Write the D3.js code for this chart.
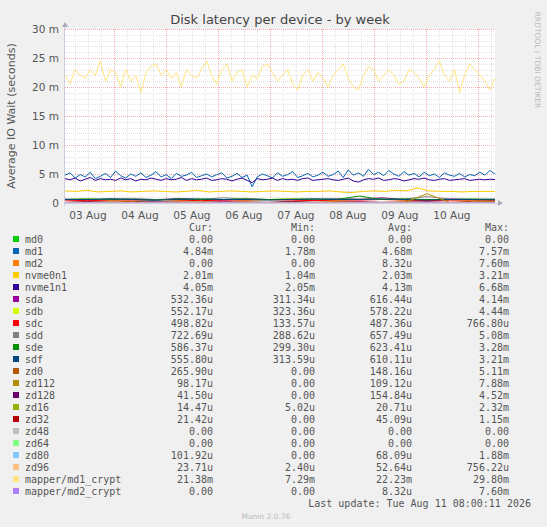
<!DOCTYPE html><html><head><meta charset="utf-8">
<script src="https://cdn.jsdelivr.net/npm/d3@7"></script>
<style>body{margin:0;background:#F0F0F0}</style></head><body>
<script>
const names=["md0","md1","md2","nvme0n1","nvme1n1","sda","sdb","sdc","sdd","sde","sdf","zd0","zd112","zd128","zd16","zd32","zd48","zd64","zd80","zd96","mapper/md1_crypt","mapper/md2_crypt"];
const colors=["#00CC00","#0066B3","#FF8000","#FFCC00","#330099","#990099","#CCFF00","#FF0000","#808080","#008F00","#00487D","#B35A00","#B38F00","#6B006B","#8FB300","#B30000","#BEBEBE","#80FF80","#80C9FF","#FFC080","#FFE680","#AA80FF"];
const cur=["0.00","4.84m","0.00","2.01m","4.05m","532.36u","552.17u","498.82u","722.69u","586.37u","555.80u","265.90u","98.17u","41.50u","14.47u","21.42u","0.00","0.00","101.92u","23.71u","21.38m","0.00"];
const mins=["0.00","1.78m","0.00","1.04m","2.05m","311.34u","323.36u","133.57u","288.62u","299.30u","313.59u","0.00","0.00","0.00","5.02u","0.00","0.00","0.00","0.00","2.40u","7.29m","0.00"];
const avgs=["0.00","4.68m","8.32u","2.03m","4.13m","616.44u","578.22u","487.36u","657.49u","623.41u","610.11u","148.16u","109.12u","154.84u","20.71u","45.09u","0.00","0.00","68.09u","52.64u","22.23m","8.32u"];
const maxs=["0.00","7.57m","7.60m","3.21m","6.68m","4.14m","4.44m","766.80u","5.08m","3.28m","3.21m","5.11m","7.88m","4.52m","2.32m","1.15m","0.00","0.00","1.88m","756.22u","29.80m","7.60m"];
// values in ms
const md0=[0,0];
const md1=[4.8,5.2,4.3,4.9,4.5,5.3,4.2,4.6,5.1,4.4,5.5,4.7,4.3,5.0,4.6,5.2,4.4,4.8,5.4,4.5,4.9,4.2,5.1,4.6,4.8,5.3,4.4,4.7,5.0,4.5,4.9,5.2,4.3,4.6,5.1,4.4,4.8,2.8,4.5,5.0,4.7,4.3,5.2,4.6,4.9,5.4,4.4,4.7,5.1,4.5,4.8,5.3,4.6,4.9,5.5,4.4,5.7,4.8,5.2,4.6,5.8,4.9,5.3,4.7,5.6,5.0,4.6,5.4,4.8,5.1,4.5,5.3,4.7,5.0,4.4,5.2,4.8,4.6,5.1,4.5,4.9,4.7,5.3,4.8,5.6,5.0];
const md2=[0,0];
const nvme0n1=[2.1,2.0,2.2,1.9,2.0,2.1,1.9,2.0,2.1,2.0,1.9,2.0,2.2,1.9,2.0,2.1,2.0,1.9,2.0,2.1,2.0,1.9,2.0,2.0,2.1,1.9,1.8,2.0,2.1,2.0,2.2,2.1,2.6,2.1,2.0,2.0,1.9,2.0,2.0,2.0];
const nvme1n1=[4.2,4.0,4.3,3.8,4.1,4.4,3.9,4.2,4.0,4.1,3.9,4.3,4.0,4.2,3.8,4.1,4.0,4.3,4.1,3.9,4.2,4.0,4.1,4.4,3.9,4.2,4.0,4.1,4.3,3.9,4.0,4.2,4.1,3.8,4.1,4.3,3.9,3.5,4.2,4.0,4.1,4.3,3.9,4.2,4.0,4.1,3.9,4.2,4.3,3.9,4.0,4.1,4.2,4.0,3.9,4.1,4.3,3.8,3.6,4.0,4.2,4.1,4.3,3.9,4.0,4.2,4.1,3.8,4.0,4.2,4.1,4.3,4.0,3.9,4.1,4.2,3.9,4.0,4.1,4.2,3.9,4.0,4.1,4.0,4.1,4.05];
const sda=[0.6,0.5,0.7,0.6,0.5,0.8,0.6,0.5,0.7,0.6,0.6,0.5,0.7,0.6,0.9,0.6,0.5,0.7,0.6,0.5];
const sdb=[0.6,0.7,0.5,0.6,0.6,0.5,0.7,0.6,0.5,0.6,0.8,0.6,0.5,0.6,0.7,0.5,0.6,0.6,0.5,0.55];
const sdc=[0.5,0.4,0.5,0.5,0.6,0.5,0.4,0.5,0.5,0.6,0.5,0.4,0.5,0.5,0.6,0.5,0.4,0.5,0.5,0.5];
const sdd=[0.7,0.6,0.7,0.8,0.6,0.7,0.6,0.9,0.7,0.6,0.7,0.6,0.8,0.7,0.6,0.7,1.1,0.7,0.6,0.72];
const sde=[0.6,0.7,0.6,0.6,0.5,0.7,0.6,0.6,0.7,0.6,0.6,0.7,0.6,1.2,0.6,0.7,0.6,0.6,0.7,0.59];
const sdf=[0.6,0.6,0.7,0.6,0.5,0.6,0.7,0.6,0.6,0.5,0.6,0.7,0.6,0.6,0.7,0.6,0.5,0.6,0.6,0.56];
const zd0=[0.1,0.2,0.1,0.3,0.1,0.2,0.1,0.1,0.2,0.1,0.3,0.1,0.2,0.1,0.1,0.2,0.1,0.1,0.3,0.27];
const zd112=[0.1,0.1,0.2,0.1,0.1,0.1,0.2,0.1,0.1,0.1,0.1,0.1,0.2,0.1,0.1,0.1,1.6,0.1,0.1,0.1];
const zd128=[0.1,0.2,0.1,0.1,0.2,0.1,0.1,0.2,0.1,0.1,0.2,0.1,0.1,0.2,0.1,0.1,0.2,0.1,0.1,0.04];
const zd16=[0.02,0.02,0.03,0.02,0.02,0.02,0.03,0.02,0.02,0.02];
const zd32=[0.05,0.04,0.05,0.06,0.04,0.05,0.04,0.05,0.04,0.02];
const zd48=[0,0];
const zd64=[0,0];
const zd80=[0.05,0.1,0.05,0.08,0.05,0.06,0.05,0.1,0.05,0.1];
const zd96=[0.05,0.05,0.06,0.05,0.04,0.05,0.06,0.05,0.05,0.02];
const md1_crypt=[22,20.5,23,22,21.5,23,22,24.5,21,23,22.5,20,23,21,22,19,22.5,23.5,24,22,23,21.5,22.5,20,23,22,21.5,23,24.5,22,20.5,23,24,21,22.5,23,20,22,21.5,23.5,24,22.5,21,22,23,20.5,19.5,22,23,21,22.5,21.5,20,22,23,24,21.5,20,19.5,22,23.5,23,21,22,23,22,20.5,21,23,22.5,21.5,20,22,23,24.5,22,21,23,19,22,24,23,22,21,19.5,21.5];
const md2_crypt=[0,0];
const series=[md0,md1,md2,nvme0n1,nvme1n1,sda,sdb,sdc,sdd,sde,sdf,zd0,zd112,zd128,zd16,zd32,zd48,zd64,zd80,zd96,md1_crypt,md2_crypt];
const dayLabels=["03 Aug","04 Aug","05 Aug","06 Aug","07 Aug","08 Aug","09 Aug","10 Aug"];
const yTicks=[0,5,10,15,20,25,30];

const W=547,H=527,L=65,R=495,T=29,B=203;
const svg=d3.select("body").append("svg").attr("width",W).attr("height",H).style("font-family","DejaVu Sans");
const x=d3.scaleLinear().domain([0,198.5]).range([L,R]);
const y=d3.scaleLinear().domain([0,30]).range([B,T]);
const px=v=>Math.round(v)+0.5;
svg.append("rect").attr("x",L).attr("y",T).attr("width",R-L).attr("height",B-T).attr("fill","#fff");
const g=svg.append("g").attr("shape-rendering","crispEdges");
for(let v=1;v<30;v++) if(v%5) g.append("line").attr("x1",L).attr("x2",R).attr("y1",px(y(v))).attr("y2",px(y(v))).attr("stroke","#e2e2e2").attr("stroke-dasharray","1,1");
for(let h=22.6-18;h<198.5;h+=6){const k=(h-22.6)/24;const mid=Math.abs(k-Math.round(k))<0.01;
 if(!mid&&h>0) g.append("line").attr("x1",px(x(h))).attr("x2",px(x(h))).attr("y1",T).attr("y2",B).attr("stroke","#e2e2e2").attr("stroke-dasharray","1,1");}
yTicks.forEach(v=>{if(v>0)g.append("line").attr("x1",L).attr("x2",R).attr("y1",px(y(v))).attr("y2",px(y(v))).attr("stroke","#f2b0b0").attr("stroke-dasharray","1,1");});
for(let k=0;k<8;k++){const h=22.6+24*k;g.append("line").attr("x1",px(x(h))).attr("x2",px(x(h))).attr("y1",T).attr("y2",B).attr("stroke","#f2b0b0").attr("stroke-dasharray","1,1");}
svg.selectAll(".yt").data(yTicks).join("text").attr("x",L-6).attr("y",d=>y(d)+4).attr("text-anchor","end").attr("font-size",10.5).attr("fill","#555").text(d=>d===0?"0":d+" m");
svg.selectAll(".xt").data(dayLabels).join("text").attr("x",(d,i)=>x(22.6-12+24*i)).attr("y",B+16).attr("text-anchor","middle").attr("font-size",10.5).attr("fill","#555").text(d=>d);
const line=d3.line();
series.forEach((s,i)=>{
 const pts=s.map((v,j)=>[x(j*198.5/(s.length-1)),y(v)]);
 svg.append("path").attr("d",line(pts)).attr("fill","none").attr("stroke",colors[i]).attr("stroke-width",1);
});
svg.append("line").attr("x1",L).attr("x2",R+6).attr("y1",B+0.5).attr("y2",B+0.5).attr("stroke","#ccd");
svg.append("line").attr("x1",L-0.5).attr("x2",L-0.5).attr("y1",T-6).attr("y2",B+3).attr("stroke","#ccd");
svg.append("path").attr("d",`M${R+3},${B-3}L${R+8},${B}L${R+3},${B+3}Z`).attr("fill","#aab");
svg.append("path").attr("d",`M${L-3},${T-2}L${L},${T-7}L${L+3},${T-2}Z`).attr("fill","#aab");
svg.append("text").attr("x",280).attr("y",24).attr("text-anchor","middle").attr("font-size",13).attr("fill","#444").text("Disk latency per device - by week");
svg.append("text").attr("transform","translate(15,116) rotate(-90)").attr("text-anchor","middle").attr("font-size",11).attr("fill","#555").text("Average IO Wait (seconds)");
svg.append("text").attr("transform","translate(535,60) rotate(90)").attr("text-anchor","middle").attr("font-size",7.5).attr("fill","#bbb").text("RRDTOOL / TOBI OETIKER");
const mono="DejaVu Sans Mono";
[["Cur:",213],["Min:",315],["Avg:",412],["Max:",509]].forEach(([t,xx])=>svg.append("text").attr("x",xx).attr("y",231).attr("text-anchor","end").attr("font-family",mono).attr("font-size",10).attr("fill","#555").text(t));
names.forEach((n,i)=>{const yy=243+i*12;
 svg.append("rect").attr("x",13).attr("y",yy-7).attr("width",6).attr("height",6).attr("fill",colors[i]);
 svg.append("text").attr("x",25).attr("y",yy).attr("font-family",mono).attr("font-size",10).attr("fill","#555").text(n);
 [[cur,213],[mins,315],[avgs,412],[maxs,509]].forEach(([a,xx])=>svg.append("text").attr("x",xx).attr("y",yy).attr("text-anchor","end").attr("font-family",mono).attr("font-size",10).attr("fill","#555").text(a[i]));
});
svg.append("text").attr("x",531).attr("y",507).attr("text-anchor","end").attr("font-family",mono).attr("font-size",10).attr("fill","#555").text("Last update: Tue Aug 11 08:00:11 2026");
svg.append("text").attr("x",266).attr("y",519).attr("text-anchor","middle").attr("font-size",7.5).attr("fill","#bbb").text("Munin 2.0.76");
</script></body></html>
